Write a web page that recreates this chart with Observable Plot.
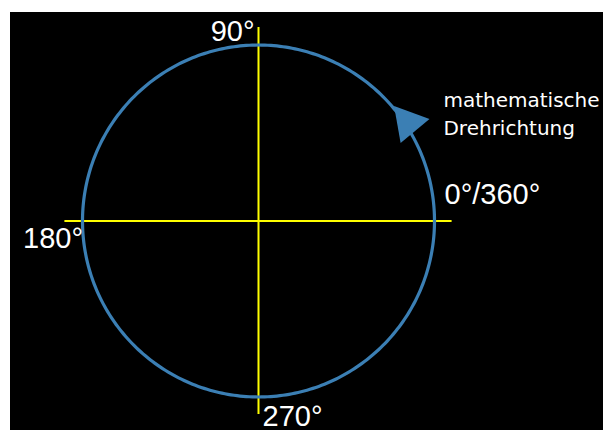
<!DOCTYPE html>
<html><head><meta charset="utf-8">
<script src="https://cdn.jsdelivr.net/npm/d3@7"></script>
<script src="https://cdn.jsdelivr.net/npm/@observablehq/plot@0.6"></script>
<style>
html,body{margin:0;padding:0;background:#fff;width:603px;height:430px;overflow:hidden;}
#chart{position:absolute;left:10px;top:12px;}
</style></head><body><div id="chart"></div>
<script>
// data
const directionAngles = [0, 90, 180, 270];
const directionLabels = ["0°/360°", "90°", "180°", "270°"];
const axisExtent = 1.1;
const arrowAngle = 33.5;
const noteLines = ["mathematische", "Drehrichtung"];

const rad = d => d * Math.PI / 180;
const onCircle = a => ({x: Math.cos(rad(a)), y: Math.sin(rad(a))});
const unitCircle = d3.range(0, 361, 1).map(onCircle);
const labels = directionAngles.map((a, i) => ({...onCircle(a), label: directionLabels[i]}));
const arrow = [onCircle(arrowAngle)];

const font = "Liberation Sans, Arial, Helvetica, sans-serif";
const blue = "#3b7fb4";
const yellow = "#ffff00";
const labelStyle = [
  {textAnchor: "start", dx: 10, dy: -17.5},
  {textAnchor: "end", dx: -4, dy: -4.5},
  {textAnchor: "end", dx: 0.5, dy: 26.5},
  {textAnchor: "start", dx: 4, dy: 28.5}
];

const chart = Plot.plot({
  width: 593, height: 418,
  marginLeft: 72, marginRight: 169, marginTop: 32.5, marginBottom: 33.5,
  style: {background: "black", overflow: "visible"},
  x: {domain: [-1, 1], axis: null},
  y: {domain: [-1, 1], axis: null},
  marks: [
    Plot.ruleY([0], {x1: -axisExtent, x2: axisExtent, stroke: yellow, strokeWidth: 2}),
    Plot.ruleX([0], {y1: -axisExtent, y2: axisExtent, stroke: yellow, strokeWidth: 2}),
    Plot.line(unitCircle, {x: "x", y: "y", stroke: blue, strokeWidth: 3.2, curve: "linear"}),
    Plot.dot(arrow, {x: "x", y: "y", symbol: "triangle", r: 14, fill: blue, stroke: "none", rotate: -40, dx: 2.8, dy: -1.2}),
    ...labels.map((d, i) => Plot.text([d], {
      x: "x", y: "y", text: "label", fill: "white", fontSize: 29, fontFamily: font,
      lineAnchor: "bottom", ...labelStyle[i]
    })),
    Plot.text(arrow, {
      x: "x", y: "y", text: () => noteLines.join("\n"), fill: "white", fontSize: 20,
      fontFamily: "DejaVu Sans, Verdana, sans-serif", lineHeight: 28 / 20, lineAnchor: "bottom", textAnchor: "start",
      dx: 38.2, dy: 11.6
    })
  ]
});
document.getElementById("chart").appendChild(chart);
</script></body></html>
